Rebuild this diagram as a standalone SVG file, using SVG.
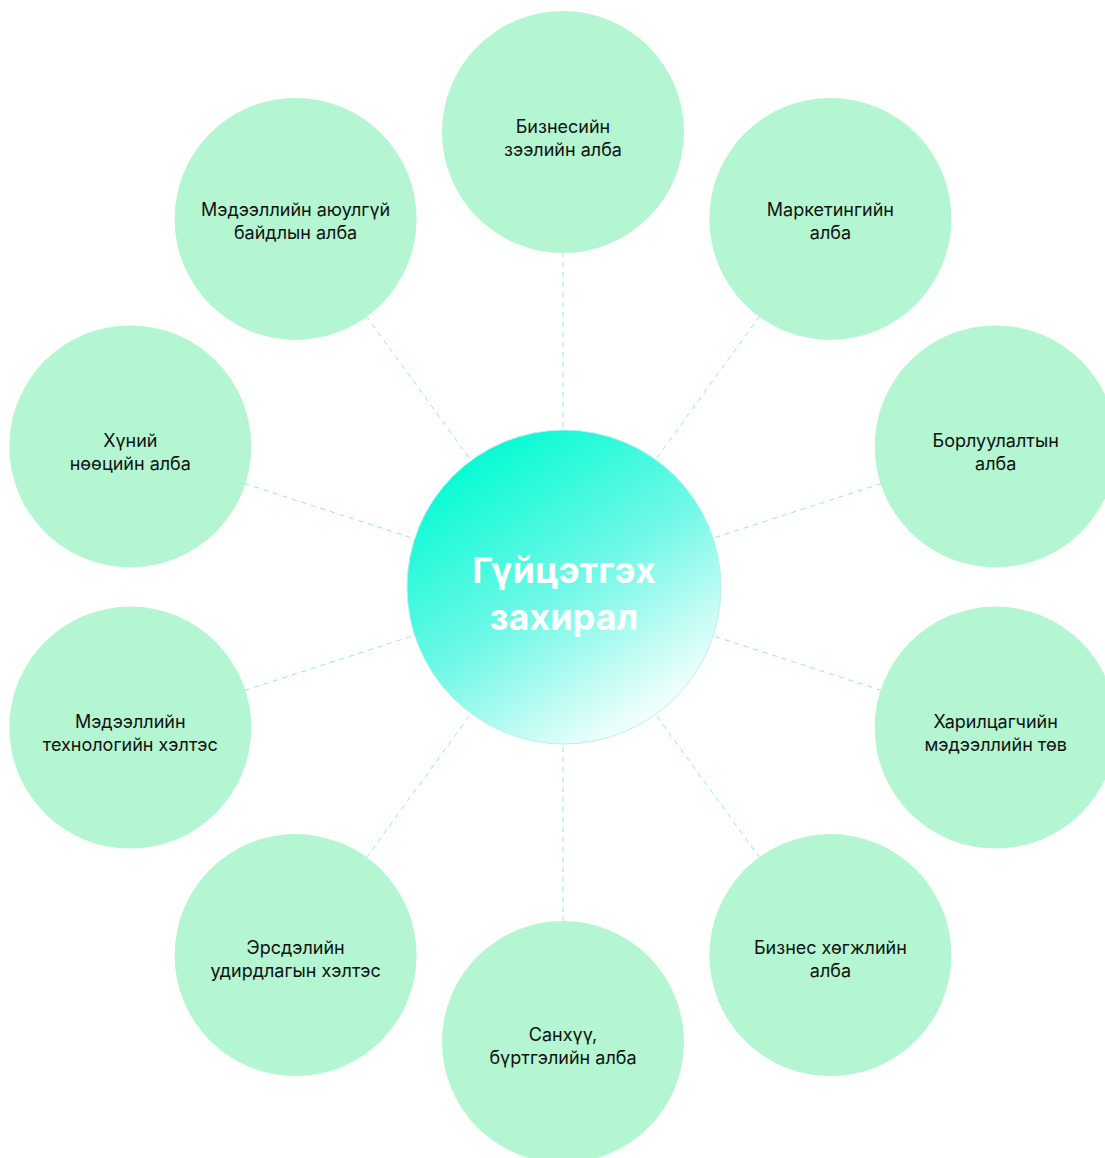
<svg xmlns="http://www.w3.org/2000/svg" width="1105" height="1158" viewBox="0 0 1105 1158">
<defs>
<linearGradient id="g" x1="0.2" y1="0.05" x2="0.8" y2="0.95">
<stop offset="0" stop-color="#00fbd3"/>
<stop offset="0.5" stop-color="#6ff8e6"/>
<stop offset="1" stop-color="#ffffff"/>
</linearGradient>
<style>
.n{fill:#b3f6d1}
.t{font-family:Inter,"Liberation Sans",sans-serif;font-size:18px;fill:#111;text-anchor:middle}
.c{font-family:Inter,"Liberation Sans",sans-serif;font-size:36px;font-weight:bold;fill:#fff;text-anchor:middle}
.e{stroke:#9fe0e6;stroke-width:1;stroke-dasharray:5 5;fill:none}
</style>
</defs>
<rect width="1105" height="1158" fill="#fff"/>
<g id="connectors">
<line class="e" x1="563" y1="587" x2="563" y2="132"/>
<line class="e" x1="563" y1="587" x2="830.4" y2="218.9"/>
<line class="e" x1="563" y1="587" x2="995.7" y2="446.4"/>
<line class="e" x1="563" y1="587" x2="995.7" y2="727.6"/>
<line class="e" x1="563" y1="587" x2="830.4" y2="955.1"/>
<line class="e" x1="563" y1="587" x2="563" y2="1042"/>
<line class="e" x1="563" y1="587" x2="295.6" y2="955.1"/>
<line class="e" x1="563" y1="587" x2="130.3" y2="727.6"/>
<line class="e" x1="563" y1="587" x2="130.3" y2="446.4"/>
<line class="e" x1="563" y1="587" x2="295.6" y2="218.9"/>
</g>
<g id="n1"><circle class="n" cx="563" cy="132" r="121"/><text class="t" x="563" y="133">Бизнесийн</text><text class="t" x="563" y="156">зээлийн алба</text></g>
<g id="n2"><circle class="n" cx="830.4" cy="218.9" r="121"/><text class="t" x="830.4" y="216">Маркетингийн</text><text class="t" x="830.4" y="239">алба</text></g>
<g id="n3"><circle class="n" cx="995.7" cy="446.4" r="121"/><text class="t" x="995.7" y="447">Борлуулалтын</text><text class="t" x="995.7" y="470">алба</text></g>
<g id="n4"><circle class="n" cx="995.7" cy="727.6" r="121"/><text class="t" x="995.7" y="728">Харилцагчийн</text><text class="t" x="995.7" y="751">мэдээллийн төв</text></g>
<g id="n5"><circle class="n" cx="830.4" cy="955.1" r="121"/><text class="t" x="830.4" y="954">Бизнес хөгжлийн</text><text class="t" x="830.4" y="977">алба</text></g>
<g id="n6"><circle class="n" cx="563" cy="1042" r="121"/><text class="t" x="563" y="1041">Санхүү,</text><text class="t" x="563" y="1064">бүртгэлийн алба</text></g>
<g id="n7"><circle class="n" cx="295.6" cy="955.1" r="121"/><text class="t" x="295.6" y="954">Эрсдэлийн</text><text class="t" x="295.6" y="977">удирдлагын хэлтэс</text></g>
<g id="n8"><circle class="n" cx="130.3" cy="727.6" r="121"/><text class="t" x="130.3" y="728">Мэдээллийн</text><text class="t" x="130.3" y="751">технологийн хэлтэс</text></g>
<g id="n9"><circle class="n" cx="130.3" cy="446.4" r="121"/><text class="t" x="130.3" y="447">Хүний</text><text class="t" x="130.3" y="470">нөөцийн алба</text></g>
<g id="n10"><circle class="n" cx="295.6" cy="218.9" r="121"/><text class="t" x="295.6" y="216">Мэдээллийн аюулгүй</text><text class="t" x="295.6" y="239">байдлын алба</text></g>
<g id="center"><circle cx="564" cy="587" r="157" fill="url(#g)" stroke="#bdeff0" stroke-width="1"/><text class="c" x="564" y="583">Гүйцэтгэх</text><text class="c" x="564" y="630">захирал</text></g>
</svg>
